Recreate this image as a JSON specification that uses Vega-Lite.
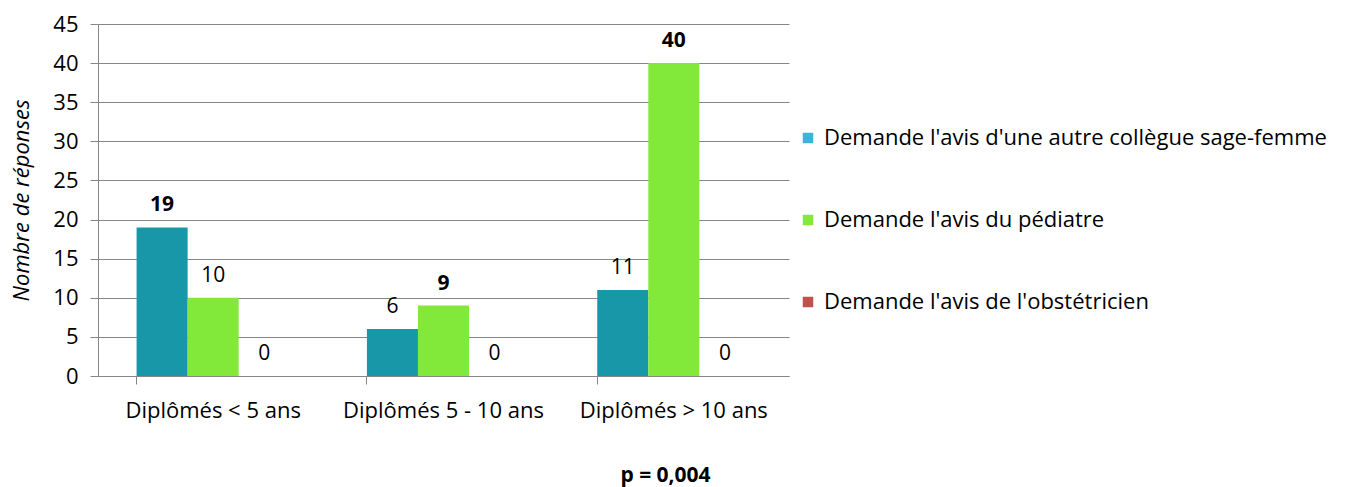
{
  "$schema": "https://vega.github.io/schema/vega-lite/v6.json",
  "autosize": "none",
  "width": 691,
  "height": 352,
  "padding": {"left": 98, "top": 24, "right": 569, "bottom": 111},
  "background": "white",
  "config": {"view": {"stroke": null}, "font": "Open Sans"},
  "data": {
    "values": [
      {"groupe": "Diplômés < 5 ans", "avis": "Demande l'avis d'une autre collègue sage-femme", "n": 19},
      {"groupe": "Diplômés < 5 ans", "avis": "Demande l'avis du pédiatre", "n": 10},
      {"groupe": "Diplômés < 5 ans", "avis": "Demande l'avis de l'obstétricien", "n": 0},
      {"groupe": "Diplômés 5 - 10 ans", "avis": "Demande l'avis d'une autre collègue sage-femme", "n": 6},
      {"groupe": "Diplômés 5 - 10 ans", "avis": "Demande l'avis du pédiatre", "n": 9},
      {"groupe": "Diplômés 5 - 10 ans", "avis": "Demande l'avis de l'obstétricien", "n": 0},
      {"groupe": "Diplômés > 10 ans", "avis": "Demande l'avis d'une autre collègue sage-femme", "n": 11},
      {"groupe": "Diplômés > 10 ans", "avis": "Demande l'avis du pédiatre", "n": 40},
      {"groupe": "Diplômés > 10 ans", "avis": "Demande l'avis de l'obstétricien", "n": 0}
    ]
  },
  "transform": [
    {"joinaggregate": [{"op": "max", "field": "n", "as": "maxn"}], "groupby": ["groupe"]}
  ],
  "encoding": {
    "x": {
      "field": "groupe", "type": "nominal", "sort": null,
      "scale": {"paddingInner": 0.335, "paddingOuter": 0.1675},
      "axis": {
        "title": "p = 0,004", "titleFontWeight": "bold", "titleFontSize": 21, "titleColor": "#000",
        "titleX": 567, "titleY": 99, "titleBaseline": "middle",
        "labelAngle": 0, "labelFontSize": 22, "labelColor": "#000", "labelPadding": 16, "labelLimit": 400,
        "bandPosition": 0, "tickSize": 8, "tickColor": "#868686", "domainColor": "#868686"
      }
    },
    "xOffset": {"field": "avis", "type": "nominal", "sort": null},
    "y": {
      "field": "n", "type": "quantitative",
      "scale": {"domain": [0, 45]},
      "axis": {
        "values": [0, 5, 10, 15, 20, 25, 30, 35, 40, 45],
        "title": "Nombre de réponses", "titleFontStyle": "italic", "titleFontWeight": "normal",
        "titleFontSize": 22, "titleColor": "#000", "titlePadding": 19,
        "labelFontSize": 22, "labelColor": "#000", "labelPadding": 12,
        "tickSize": 8, "tickColor": "#868686", "domainColor": "#868686",
        "grid": true, "gridColor": "#868686"
      }
    }
  },
  "layer": [
    {
      "mark": {"type": "bar"},
      "encoding": {
        "color": {
          "field": "avis", "type": "nominal", "sort": null,
          "scale": {"range": ["#1897A8", "#82E83A", "#C0504D"]},
          "legend": null
        }
      }
    },
    {
      "mark": {"type": "point", "opacity": 0, "shape": "square", "filled": true},
      "encoding": {
        "color": {
          "field": "avis", "type": "nominal", "sort": null,
          "scale": {"range": ["#3CB4DA", "#82E83A", "#C0504D"]},
          "legend": {
            "title": null, "orient": "none", "legendX": 699, "legendY": 103,
            "symbolType": "square", "symbolSize": 110, "symbolOpacity": 1, "symbolStrokeWidth": 0,
            "labelFontSize": 22, "labelColor": "#000", "labelLimit": 700, "labelOffset": 5,
            "rowPadding": 60
          }
        }
      }
    },
    {
      "transform": [{"filter": "datum.n == datum.maxn"}],
      "mark": {"type": "text", "baseline": "bottom", "dy": -12, "fontSize": 21, "fontWeight": "bold", "color": "#000"},
      "encoding": {"text": {"field": "n", "type": "quantitative"}}
    },
    {
      "transform": [{"filter": "datum.n != datum.maxn"}],
      "mark": {"type": "text", "baseline": "bottom", "dy": -12, "fontSize": 21, "color": "#000"},
      "encoding": {"text": {"field": "n", "type": "quantitative"}}
    }
  ],
  "resolve": {"scale": {"color": "independent"}}
}
